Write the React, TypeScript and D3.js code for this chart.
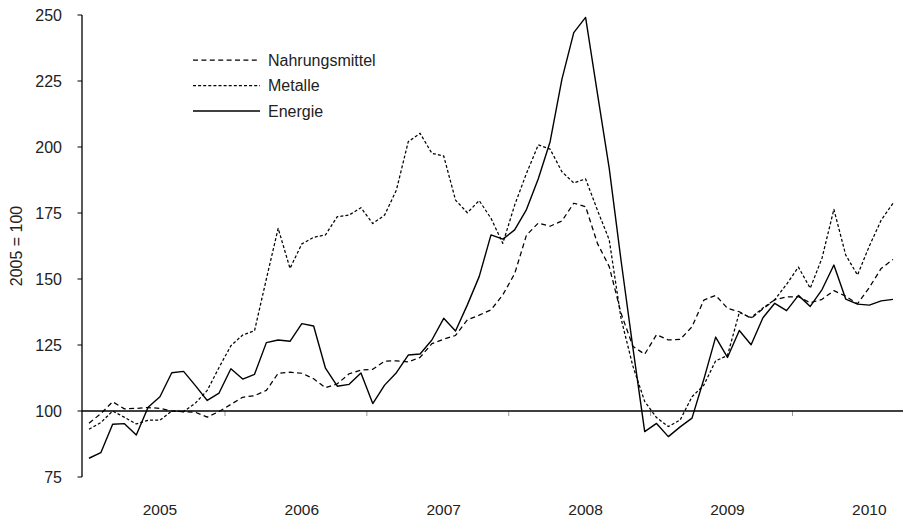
import React from "react";
import * as d3 from "d3";

// Monthly data, Jan 2005 – Sep 2010 (2005 = 100)
const years = ["2005", "2006", "2007", "2008", "2009", "2010"];
const yTicks = [75, 100, 125, 150, 175, 200, 225, 250];

const nahrungsmittel = [
  95.4, 99, 103.5, 100.8, 101, 101.3, 101, 100, 99.7, 99.5, 97.7, 99.8,
  102.5, 105.2, 105.8, 107.8, 114.3, 114.7, 114.3, 112.2, 108.8, 110.3, 114.1, 115.5,
  115.8, 118.9, 119, 118.6, 120.3, 125.5, 127.2, 128.6, 134.5, 136.3, 138.3, 144,
  152, 166.6, 171.2, 170, 172, 178.7, 177.4, 163.5, 154.7, 137, 124.5, 121.5,
  128.9, 126.9, 127.1, 131.9, 142, 143.8, 138.9, 137.6, 135.1, 138.7, 142.1, 143.2,
  143.3, 141, 142.3, 145.6, 143.5, 140.6, 146.8, 154, 157.4,
];

const metalle = [
  93.1, 95.6, 100, 97.6, 95.1, 96.5, 96.5, 100, 99.8, 103, 107.8, 116.5,
  124.7, 128.8, 130.4, 150, 169.2, 154, 163.3, 165.8, 166.7, 173.6, 174.2, 177,
  171, 174.2, 183.7, 202, 205.2, 197.6, 196.6, 179.9, 175.1, 179.7, 173, 163.5,
  178, 190, 200.8, 199.2, 190.6, 186.4, 187.9, 176.1, 164.8, 135, 117, 103.6,
  97.5, 94.1, 96.6, 105.4, 109.8, 119, 121, 137.3, 135.4, 139, 142.2, 148,
  154.5, 146.5, 158, 176.4, 159.1, 151.5, 162.5, 172.3, 178.7,
];

const energie = [
  82.1, 84.2, 95, 95.2, 90.9, 101.4, 105.4, 114.5, 115, 109.6, 104, 106.8,
  116, 112.1, 113.9, 125.9, 126.9, 126.4, 133.1, 132.2, 116.2, 109.4, 110.1, 114.4,
  102.8, 109.8, 114.5, 121.2, 121.6, 126.9, 135.1, 130.3, 140.2, 150.9, 166.7, 165.1,
  168.6, 176.3, 188, 202, 225.7, 243.3, 249.1, 220.3, 191.9, 157, 124, 92.2,
  95.3, 90.3, 94, 97.3, 112, 128, 120.3, 130.5, 125.1, 135.3, 140.8, 138,
  143.8, 139.6, 146, 155.3, 142.4, 140.5, 140.1, 141.7, 142.3,
];

const seriesNames = ["Nahrungsmittel", "Metalle", "Energie"];
const seriesDash = ["5,3.4", "3,2.1", ""];

const W = 903;
const H = 517;
const FONT = "'Liberation Sans', Arial, sans-serif";

export default function App() {
  const n = energie.length;
  const x = d3.scaleLinear().domain([0, n - 1]).range([89, 893]);
  const y = d3.scaleLinear().domain([75, 250]).range([477, 15]);
  const axisX = 82;

  const line = d3
    .line<number>()
    .x((_, i) => x(i))
    .y((d) => y(d));

  const allSeries = [nahrungsmittel, metalle, energie];
  const legendY = [60, 85.5, 111];

  return (
    <svg
      width={W}
      height={H}
      style={{ position: "absolute", left: 0, top: 0, background: "#fff" }}
      fontFamily={FONT}
    >
      {/* y-axis */}
      <line x1={axisX} x2={axisX} y1={y(250)} y2={y(75)} stroke="#000" strokeWidth={1.3} />
      {yTicks.map((t) => (
        <g key={t}>
          <line x1={axisX - 4.5} x2={axisX} y1={y(t)} y2={y(t)} stroke="#000" strokeWidth={1} />
          <text x={62} y={y(t) + 6} textAnchor="end" fontSize={16} fill="#222">
            {t}
          </text>
        </g>
      ))}
      <text
        transform={`translate(22, ${y(162.5)}) rotate(-90)`}
        textAnchor="middle"
        fontSize={16}
        fill="#222"
      >
        2005 = 100
      </text>

      {/* year boundary ticks */}
      {years.map((yr, k) =>
        k === 0 ? null : (
          <line
            key={"t" + yr}
            x1={x(k * 12 - 0.5)}
            x2={x(k * 12 - 0.5)}
            y1={y(100)}
            y2={y(100) + 5}
            stroke="#999"
            strokeWidth={1}
          />
        )
      )}
      {/* year labels */}
      {years.map((yr, k) => (
        <text key={yr} x={x(k * 12 + 6)} y={515} textAnchor="middle" fontSize={15.5} fill="#222">
          {yr}
        </text>
      ))}

      {/* series */}
      {allSeries.map((s, k) => (
        <path
          key={seriesNames[k]}
          d={line(s) || ""}
          fill="none"
          stroke="#000"
          strokeWidth={k === 2 ? 1.4 : 1.25}
          strokeDasharray={seriesDash[k] || undefined}
          strokeLinejoin="round"
        />
      ))}

      {/* x-axis line at 100 */}
      <line x1={axisX} x2={W} y1={y(100)} y2={y(100)} stroke="#000" strokeWidth={1.3} />

      {/* legend */}
      {seriesNames.map((name, k) => (
        <g key={"lg" + name}>
          <line
            x1={193}
            x2={260}
            y1={legendY[k]}
            y2={legendY[k]}
            stroke="#000"
            strokeWidth={k === 2 ? 1.4 : 1.25}
            strokeDasharray={seriesDash[k] || undefined}
          />
          <text x={268} y={legendY[k] + 5.5} fontSize={16} fill="#222">
            {name}
          </text>
        </g>
      ))}
    </svg>
  );
}
